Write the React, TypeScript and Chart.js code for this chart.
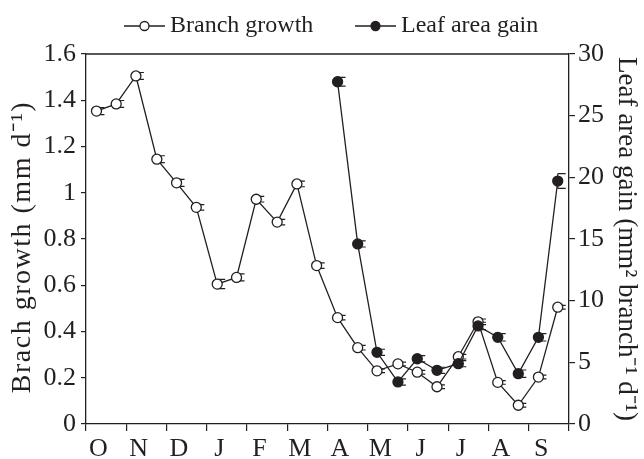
import React, { useEffect, useRef } from 'react';
import { Chart, registerables } from 'chart.js';

Chart.register(...registerables);

// ---- data ----
const months = ['O', 'N', 'D', 'J', 'F', 'M', 'A', 'M', 'J', 'J', 'A', 'S'];
const leftTicks = ['0', '0.2', '0.4', '0.6', '0.8', '1', '1.2', '1.4', '1.6'];
const rightTicks = ['0', '5', '10', '15', '20', '25', '30'];
const leftTitle = 'Brach growth (mm d\u207B\u00B9)';
const rightTitle = 'Leaf area gain (mm\u00B2 branch\u207B\u00B9 d\u207B\u00B9)';

// x in months since start of October
const branchX = [0.26, 0.75, 1.24, 1.76, 2.25, 2.74, 3.26, 3.74, 4.23, 4.75, 5.24, 5.73, 6.25, 6.75, 7.23, 7.75, 8.23, 8.72, 9.25, 9.74, 10.23, 10.74, 11.24, 11.72];
const branchGrowth = [1.353, 1.384, 1.505, 1.145, 1.043, 0.937, 0.605, 0.634, 0.972, 0.873, 1.038, 0.685, 0.46, 0.33, 0.23, 0.26, 0.224, 0.161, 0.291, 0.442, 0.18, 0.081, 0.203, 0.505];
const branchErr = [0.015, 0.015, 0.015, 0.015, 0.015, 0.012, 0.02, 0.015, 0.012, 0.012, 0.012, 0.012, 0.01, 0.01, 0.008, 0.008, 0.008, 0.008, 0.01, 0.012, 0.008, 0.008, 0.008, 0.008];

const leafX = [6.25, 6.75, 7.23, 7.75, 8.23, 8.72, 9.25, 9.74, 10.23, 10.74, 11.24, 11.72];
const leafGain = [27.75, 14.6, 5.81, 3.41, 5.29, 4.35, 4.89, 7.95, 7.03, 4.08, 7.03, 19.7];
const leafErr = [0.35, 0.25, 0.25, 0.25, 0.25, 0.25, 0.25, 0.3, 0.3, 0.3, 0.3, 0.6];

const INK = '#231f20';
const FONT = '"Liberation Serif", "Times New Roman", serif';

const errorBarPlugin = {
  id: 'errorBars',
  beforeDatasetsDraw(chart: any) {
    const ctx = chart.ctx;
    ctx.save();
    ctx.strokeStyle = INK;
    ctx.lineWidth = 1.2;
    chart.data.datasets.forEach((ds: any, i: number) => {
      const meta = chart.getDatasetMeta(i);
      const yScale = chart.scales[meta.yAxisID];
      const errs: number[] = ds.errors || [];
      meta.data.forEach((pt: any, j: number) => {
        const v = ds.data[j].y;
        const e = errs[j] || 0;
        const x = pt.x;
        const yTop = yScale.getPixelForValue(v + e);
        const yBot = yScale.getPixelForValue(v - e);
        ctx.beginPath();
        ctx.moveTo(x, yTop);
        ctx.lineTo(x, yBot);
        ctx.moveTo(x, yTop);
        ctx.lineTo(x + 8, yTop);
        ctx.moveTo(x, yBot);
        ctx.lineTo(x + 8, yBot);
        ctx.stroke();
      });
    });
    ctx.restore();
  },
};

const framePlugin = {
  id: 'frameAndLegend',
  afterDraw(chart: any) {
    const ctx = chart.ctx;
    const { left, right, top, bottom } = chart.chartArea;
    ctx.save();
    ctx.strokeStyle = INK;
    ctx.lineWidth = 1.3;
    ctx.beginPath();
    ctx.moveTo(left, top);
    ctx.lineTo(right, top);
    ctx.stroke();

    // left axis title
    ctx.save();
    ctx.translate(23, (top + bottom) / 2 + 8);
    ctx.rotate(-Math.PI / 2);
    ctx.font = `28px ${FONT}`;
    (ctx as any).letterSpacing = '1.5px';
    ctx.textAlign = 'center';
    ctx.textBaseline = 'middle';
    ctx.fillStyle = INK;
    ctx.fillText(leftTitle, 0, 0);
    ctx.restore();

    // legend
    const y = 26;
    const items = [
      { x0: 124, filled: false, label: chart.data.datasets[0].label },
      { x0: 355, filled: true, label: chart.data.datasets[1].label },
    ];
    ctx.font = `24px ${FONT}`;
    ctx.textBaseline = 'middle';
    ctx.textAlign = 'left';
    items.forEach((it) => {
      ctx.strokeStyle = INK;
      ctx.lineWidth = 1.3;
      ctx.beginPath();
      ctx.moveTo(it.x0, y);
      ctx.lineTo(it.x0 + 41, y);
      ctx.stroke();
      ctx.beginPath();
      ctx.arc(it.x0 + 20.5, y, 4.5, 0, Math.PI * 2);
      ctx.fillStyle = it.filled ? INK : '#ffffff';
      ctx.fill();
      ctx.stroke();
      ctx.fillStyle = INK;
      ctx.fillText(it.label, it.x0 + 46, y);
    });
    ctx.restore();
  },
};

export default function App() {
  const ref = useRef<HTMLCanvasElement>(null);

  useEffect(() => {
    const canvas = ref.current;
    if (!canvas) return;
    Chart.defaults.font.family = FONT;
    Chart.defaults.color = INK;

    const chart = new Chart(canvas, {
      type: 'scatter',
      data: {
        datasets: [
          {
            label: 'Branch growth',
            data: branchX.map((x, i) => ({ x, y: branchGrowth[i] })),
            errors: branchErr,
            showLine: true,
            borderColor: INK,
            borderWidth: 1.3,
            pointRadius: 5,
            pointBorderWidth: 1.3,
            pointBackgroundColor: '#ffffff',
            pointBorderColor: INK,
            yAxisID: 'y',
            order: 1,
          } as any,
          {
            label: 'Leaf area gain',
            data: leafX.map((x, i) => ({ x, y: leafGain[i] })),
            errors: leafErr,
            showLine: true,
            borderColor: INK,
            borderWidth: 1.3,
            pointRadius: 5,
            pointBorderWidth: 1.3,
            pointBackgroundColor: INK,
            pointBorderColor: INK,
            yAxisID: 'y1',
            order: 0,
          } as any,
        ],
      },
      options: {
        animation: false,
        responsive: false,
        devicePixelRatio: 1,
        layout: { padding: { top: 54, left: 0, right: 0, bottom: 0 } },
        plugins: {
          legend: { display: false },
          tooltip: { enabled: false },
        },
        scales: {
          x: {
            type: 'linear',
            position: 'bottom',
            min: 0,
            max: 12,
            afterFit: (s: any) => { s.height = 35; },
            afterBuildTicks: (s: any) => { s.ticks = months.map((_, i) => ({ value: i })).concat([{ value: 12 }]); },
            ticks: {
              stepSize: 1,
              autoSkip: false,
              maxRotation: 0,
              labelOffset: 12.5,
              padding: 3,
              font: { size: 26 },
              color: INK,
              callback: (v: any) => months[v] ?? '',
            },
            grid: { display: true, drawOnChartArea: false, drawTicks: true, tickLength: 7, color: INK, lineWidth: 1.2 },
            border: { display: true, color: INK, width: 1.3 },
          },
          y: {
            type: 'linear',
            position: 'left',
            min: 0,
            max: 1.6,
            afterFit: (s: any) => { s.width = 86; },
            afterBuildTicks: (s: any) => { s.ticks = leftTicks.map((t) => ({ value: parseFloat(t) })); },
            ticks: {
              padding: 5,
              font: { size: 26 },
              color: INK,
              callback: (_v: any, i: number) => leftTicks[i],
            },
            grid: { display: true, drawOnChartArea: false, drawTicks: true, tickLength: 5, color: INK, lineWidth: 1.2 },
            border: { display: true, color: INK, width: 1.3 },
          },
          y1: {
            type: 'linear',
            position: 'right',
            min: 0,
            max: 30,
            afterFit: (s: any) => { s.width = 75; },
            afterBuildTicks: (s: any) => { s.ticks = rightTicks.map((t) => ({ value: parseFloat(t) })); },
            ticks: {
              padding: 3,
              font: { size: 26 },
              color: INK,
              callback: (_v: any, i: number) => rightTicks[i],
            },
            grid: { display: true, drawOnChartArea: false, drawTicks: true, tickLength: 6, color: INK, lineWidth: 1.2 },
            border: { display: true, color: INK, width: 1.3 },
            title: {
              display: true,
              text: rightTitle,
              font: { size: 27, lineHeight: 1 },
              color: INK,
              padding: { top: 4, bottom: 0 },
            },
          },
        },
      },
      plugins: [errorBarPlugin, framePlugin],
    } as any);

    return () => chart.destroy();
  }, []);

  return (
    <canvas
      ref={ref}
      width={644}
      height={459}
      style={{ position: 'absolute', left: 0, top: 0, display: 'block', width: 644, height: 459 }}
    />
  );
}
